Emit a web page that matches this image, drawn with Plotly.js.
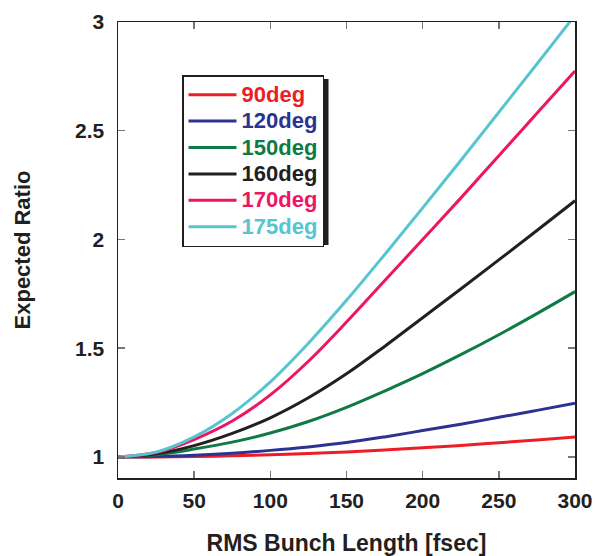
<!DOCTYPE html>
<html>
<head>
<meta charset="utf-8">
<script src="https://cdn.plot.ly/plotly-3.0.1.min.js"></script>
<style>html,body{margin:0;padding:0;background:#fff;}#chart{width:595px;height:556px;}</style>
</head>
<body>
<div id="chart"></div>
<script>
// RMS bunch length [fsec]
const bunchLength = [0, 25, 50, 75, 100, 125, 150, 175, 200, 225, 250, 275, 300];
// Expected ratio per angle
const ratio90  = [1.0, 1.000, 1.002, 1.005, 1.010, 1.016, 1.023, 1.032, 1.042, 1.053, 1.065, 1.078, 1.092];
const ratio120 = [1.0, 1.002, 1.008, 1.017, 1.030, 1.046, 1.066, 1.092, 1.121, 1.150, 1.182, 1.214, 1.247];
const ratio150 = [1.0, 1.010, 1.036, 1.068, 1.110, 1.163, 1.228, 1.303, 1.383, 1.470, 1.562, 1.659, 1.760];
const ratio160 = [1.0, 1.014, 1.052, 1.108, 1.180, 1.272, 1.382, 1.508, 1.640, 1.772, 1.906, 2.041, 2.178];
const ratio170 = [1.0, 1.020, 1.080, 1.165, 1.285, 1.440, 1.620, 1.810, 2.000, 2.190, 2.385, 2.580, 2.775];
const ratio175 = [1.0, 1.022, 1.092, 1.200, 1.345, 1.523, 1.720, 1.930, 2.145, 2.363, 2.585, 2.807, 3.031];
const seriesNames = ["90deg", "120deg", "150deg", "160deg", "170deg", "175deg"];
const seriesColors = ["#ee1c25", "#2b3390", "#0f7a44", "#231f20", "#ec1763", "#56c5d0"];
const seriesValues = [ratio90, ratio120, ratio150, ratio160, ratio170, ratio175];
const xTicks = [0, 50, 100, 150, 200, 250, 300];
const yTicks = [1, 1.5, 2, 2.5, 3];
const yTickText = ["1", "1.5", "2", "2.5", "3"];

const traces = seriesValues.map((vals, i) => ({
  x: bunchLength,
  y: vals,
  type: "scatter",
  mode: "lines",
  name: '<span style="color:' + seriesColors[i] + ';font-size:22px">' + seriesNames[i] + '</span>',
  line: {color: seriesColors[i], width: 3, shape: "spline", smoothing: 1},
  cliponaxis: true
}));

const font = "Liberation Sans, Arial, sans-serif";
const W = 595, H = 556;
const L = 118, R = 20, T = 22, B = 78;
const pw = W - L - R, ph = H - T - B;
function px(xp){ return (xp - L) / pw; }
function py(yp){ return (H - B - yp) / ph; }

const layout = {
  width: W, height: H,
  margin: {l: L, r: R, t: T, b: B},
  paper_bgcolor: "#fff",
  plot_bgcolor: "#fff",
  showlegend: true,
  font: {family: font, color: "#231f20"},
  xaxis: {
    range: [0, 300],
    tickvals: xTicks,
    ticktext: xTicks.map(String),
    ticks: "inside", ticklen: 7, tickwidth: 1.5, tickcolor: "#777",
    showline: true, linecolor: "#231f20", linewidth: 1.5, mirror: "ticks",
    showgrid: false, zeroline: false,
    tickfont: {family: font, size: 21, weight: "bold", color: "#231f20"},
    ticklabelstandoff: 3,
    title: {text: "RMS Bunch Length [fsec]", font: {family: font, size: 23, weight: "bold", color: "#231f20"}, standoff: 31}
  },
  yaxis: {
    range: [0.903, 3],
    tickvals: yTicks,
    ticktext: yTickText,
    ticks: "inside", ticklen: 7, tickwidth: 1.5, tickcolor: "#777",
    showline: true, linecolor: "#231f20", linewidth: 1.5, mirror: "ticks",
    showgrid: false, zeroline: false,
    tickfont: {family: font, size: 21, weight: "bold", color: "#231f20"},
    ticklabelstandoff: 8,
    title: {text: "Expected Ratio", font: {family: font, size: 22, weight: "bold", color: "#231f20"}, standoff: 38}
  },
  legend: {
    x: px(182), y: py(75), xanchor: "left", yanchor: "top",
    bgcolor: "#ffffff", bordercolor: "#231f20", borderwidth: 1.5,
    font: {family: font, size: 18, weight: "bold", color: "#231f20"},
    itemwidth: 48, tracegroupgap: 0
  },
  shapes: [{
    type: "rect", xref: "paper", yref: "paper",
    x0: px(186), x1: px(328.5), y0: py(245), y1: py(79),
    fillcolor: "#231f20", line: {width: 0}, layer: "above"
  }]
};

Plotly.newPlot("chart", traces, layout, {displayModeBar: false, staticPlot: true});
</script>
</body>
</html>
